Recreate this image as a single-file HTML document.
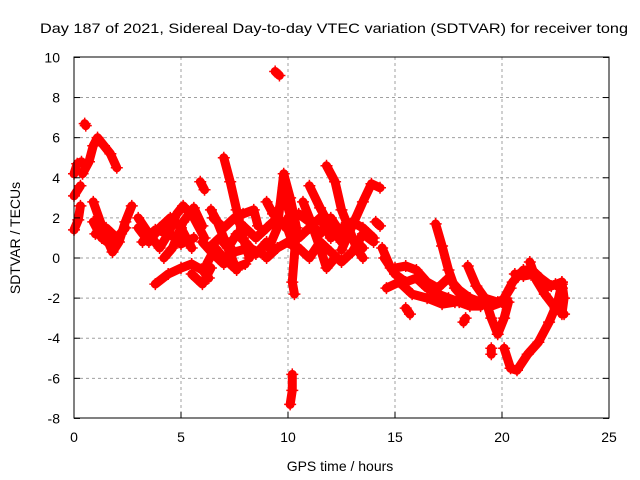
<!DOCTYPE html>
<html><head><meta charset="utf-8"><style>
body{margin:0;background:#fff;}
svg{display:block;font-family:"Liberation Sans",sans-serif;}
</style></head><body>
<svg id="chart" width="640" height="480" viewBox="0 0 640 480" xmlns="http://www.w3.org/2000/svg">
<text x="334" y="33" font-size="14" text-anchor="middle" textLength="588" lengthAdjust="spacingAndGlyphs">Day 187 of 2021, Sidereal Day-to-day VTEC variation (SDTVAR) for receiver tong</text>
<g id="grid"></g>
<g id="data"></g>
<rect x="74" y="57" width="535" height="361" fill="none" stroke="#000" stroke-width="1"/>
<g id="axes"></g>
<text x="340" y="471" font-size="14" text-anchor="middle">GPS time / hours</text>
<text transform="translate(20,238) rotate(-90)" font-size="14" text-anchor="middle">SDTVAR / TECUs</text>
</svg>
<script>
const xTicks=[0,5,10,15,20,25];
const yTicks=[-8,-6,-4,-2,0,2,4,6,8,10];
const tracks=[
[[0,1.4],[0.2,1.9],[0.3,2.6]],
[[0,3.1],[0.3,3.6]],
[[0,4.2],[0.15,4.7],[0.35,4.8]],
[[0.5,6.7],[0.55,6.6]],
[[0.4,4.2],[0.7,4.8],[0.9,5.6],[1.1,6.0],[1.4,5.6],[1.7,5.2],[2.0,4.5]],
[[0.9,2.8],[1.3,1.6],[1.6,0.8],[1.8,0.3],[2.1,0.8],[2.4,1.8],[2.7,2.6]],
[[0.9,1.8],[1.3,1.0],[1.8,0.6],[2.2,1.2]],
[[1.0,1.2],[1.5,1.5],[2.0,1.0],[2.4,1.5]],
[[3.0,2.0],[3.5,1.2],[4.0,0.5],[4.4,1.2],[4.8,2.2],[5.1,2.6],[5.6,2.0],[6.1,1.0]],
[[3.0,1.5],[3.5,0.8],[4.0,1.5],[4.5,2.0],[5.0,1.5],[5.5,0.5]],
[[3.2,0.8],[3.8,1.4],[4.5,1.2],[5.0,0.7],[5.6,1.0]],
[[4.2,0.0],[4.6,0.5],[5.1,1.8],[5.6,2.5],[6.0,1.6]],
[[3.8,-1.3],[4.4,-0.8],[5.0,-0.5],[5.5,-0.3],[6.0,-0.6],[6.3,-1.0]],
[[5.5,-0.8],[6.0,-1.3],[6.4,-0.5]],
[[5.9,3.8],[6.1,3.4]],
[[6.4,2.4],[6.7,1.8],[7.0,1.0],[7.3,0.2],[7.6,-0.6]],
[[6.3,0.5],[6.8,1.0],[7.2,0.5],[7.6,1.2],[8.0,0.8],[8.5,0.2],[9.0,0.8]],
[[6.5,2.0],[7.0,1.5],[7.5,2.0],[8.0,1.5],[8.5,1.0],[9.0,1.5],[9.5,2.0]],
[[6.0,0.8],[6.5,0.2],[7.0,-0.3],[7.5,0.3],[8.2,0.5],[8.8,0.2]],
[[7.0,5.0],[7.3,3.8],[7.6,2.4],[7.9,1.0],[8.2,0.0]],
[[6.2,-0.3],[6.6,0.5],[7.0,0.0],[7.5,-0.5],[8.0,-0.3]],
[[7.9,2.2],[8.4,2.4],[8.6,1.6]],
[[9.0,2.8],[9.3,2.2],[9.7,1.8],[10.0,1.4],[10.3,0.5]],
[[9.4,9.3],[9.6,9.1]],
[[9.1,0.5],[9.5,1.5],[9.8,4.2],[10.1,3.0],[10.4,1.5],[10.2,-1.2],[10.3,-1.8]],
[[9.6,2.5],[9.8,3.5],[10.0,2.5],[10.2,1.8]],
[[10.2,-5.8],[10.2,-6.6],[10.1,-7.3]],
[[9.0,0.0],[9.5,0.5],[10.0,0.8],[10.5,0.5],[11.0,0.0],[11.5,0.8],[12.0,0.3],[12.5,-0.2],[13.0,0.3],[13.5,1.2],[14.0,0.8]],
[[10.0,2.0],[10.5,1.0],[11,1.5],[11.5,2.0],[12,1.0],[12.5,1.5],[13,1.0],[13.5,0.5]],
[[10.5,2.2],[11.0,1.8],[11.5,1.2],[12.0,2.0],[12.5,1.2],[13.0,1.8],[13.5,1.5],[14.0,1.0]],
[[10.7,2.8],[11.0,2.0],[11.5,0.5],[11.8,-0.5],[12.2,0.0]],
[[11.0,3.6],[11.5,2.5],[12.0,1.5],[12.5,0.8]],
[[11.8,4.6],[12.2,3.8],[12.5,2.4],[12.8,1.6],[13.2,0.5],[13.5,0.0]],
[[12.5,0.4],[13.0,1.6],[13.5,2.8],[13.9,3.7],[14.3,3.5]],
[[14.1,1.8],[14.3,1.6]],
[[14.4,0.5],[14.8,-0.5],[15,-0.5],[15.5,-0.4],[16,-0.6],[16.5,-1.2],[17,-1.5],[17.5,-1.0],[18,-1.6],[18.5,-2.0]],
[[14.5,0.0],[15.0,-0.8],[15.5,-1.2],[16.0,-1.0],[16.5,-1.5],[17.0,-1.8],[17.5,-2.0],[18.0,-2.2],[18.5,-2.4],[19.0,-2.4]],
[[14.6,-1.5],[15.2,-1.2],[15.8,-1.8],[16.5,-2.0],[17.2,-2.3],[17.8,-2.2],[18.3,-2.0]],
[[16.9,1.7],[17.2,0.6],[17.5,-0.6],[17.8,-1.5],[18.2,-2.0]],
[[18.4,-0.4],[18.8,-1.4],[19.2,-2.0],[19.5,-3.0],[19.8,-3.8],[20.1,-3.0],[20.3,-2.2]],
[[18.5,-2.0],[19.0,-2.2],[19.5,-2.4],[20.0,-2.2],[20.4,-1.5]],
[[19.2,-2.0],[19.8,-2.2],[20.2,-2.0]],
[[20.1,-4.5],[20.4,-5.5],[20.7,-5.6],[21.2,-4.8],[21.7,-4.2],[22.2,-3.2],[22.6,-2.2],[22.8,-1.3]],
[[20.0,-2.2],[20.5,-1.2],[21.0,-0.6],[21.4,-0.6],[21.8,-1.0],[22.3,-1.4],[22.8,-1.2]],
[[20.6,-0.8],[21.0,-0.9],[21.5,-0.8],[22.0,-1.5],[22.5,-1.3],[22.8,-1.5]],
[[21.3,-0.2],[21.6,-1.1],[22.0,-1.8],[22.5,-2.5],[22.9,-2.8]],
[[22.8,-1.2],[22.9,-2.0],[22.8,-2.8]],
[[19.5,-4.8],[19.5,-4.5]],
[[15.5,-2.5],[15.7,-2.8]],
[[18.2,-3.2],[18.3,-3.0]]
];
const NS="http://www.w3.org/2000/svg";
const X=h=>74+h*(535/25);
const Y=v=>258-v*(361/18);
const grid=document.getElementById('grid'),axes=document.getElementById('axes'),data=document.getElementById('data');
function mk(tag,attrs,parent){const e=document.createElementNS(NS,tag);for(const k in attrs)e.setAttribute(k,attrs[k]);parent.appendChild(e);return e;}
xTicks.forEach(t=>{
  const x=X(t);
  if(t>0&&t<25){const g=mk('line',{x1:x,y1:57,x2:x,y2:418,stroke:'#a0a0a0','stroke-dasharray':'3,3'},grid);
  
  }
  const tk=mk('line',{x1:x,y1:418,x2:x,y2:412,stroke:'#000'},axes);
  
  
  const lb=mk('text',{x:x,y:442,'font-size':14,'text-anchor':'middle'},axes);lb.textContent=t;
  
  
});
yTicks.forEach(t=>{
  const y=Y(t);
  if(t>-8&&t<10){const g=mk('line',{x1:74,y1:y,x2:609,y2:y,stroke:'#a0a0a0','stroke-dasharray':'3,3'},grid);
  
  }
  const tk=mk('line',{x1:74,y1:y,x2:80,y2:y,stroke:'#000'},axes);
  
  
  const tk2=mk('line',{x1:609,y1:y,x2:603,y2:y,stroke:'#000'},axes);
  
  
  const lb=mk('text',{x:60,y:y+5,'font-size':14,'text-anchor':'end'},axes);lb.textContent=t;
  
  
});
tracks.forEach(tr=>{
  const pl=mk('polyline',{points:tr.map(p=>X(p[0])+','+Y(p[1])).join(' '),fill:'none',stroke:'#ff0000','stroke-width':9,'stroke-linejoin':'round','stroke-linecap':'round'},data);
  
  
  tr.forEach(p=>{
    const x=X(p[0]),y=Y(p[1]);
    const m=mk('path',{d:`M${x-6},${y}H${x+6}M${x},${y-6}V${y+6}`,stroke:'#ff0000','stroke-width':1.5},data);
    
    
  });
});
</script>
</body></html>
